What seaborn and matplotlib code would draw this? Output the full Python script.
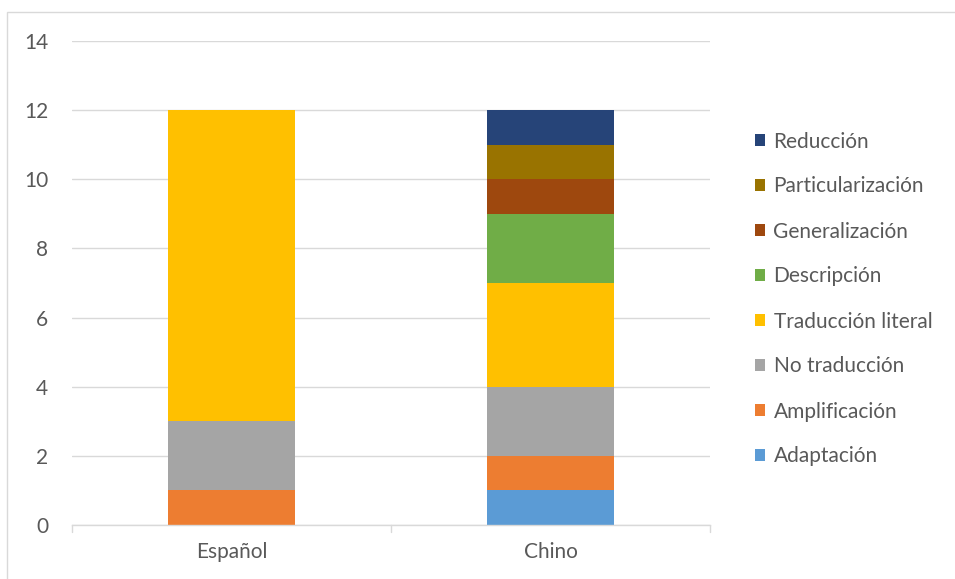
import matplotlib
matplotlib.use("Agg")
import matplotlib.pyplot as plt
import seaborn as sns
import pandas as pd
import numpy as np
from matplotlib.patches import Patch, Rectangle

categories = ["Español", "Chino"]
series = ["Adaptación", "Amplificación", "No traducción", "Traducción literal",
          "Descripción", "Generalización", "Particularización", "Reducción"]
adaptacion = [0, 1]
amplificacion = [1, 1]
no_traduccion = [2, 2]
traduccion_literal = [9, 3]
descripcion = [0, 2]
generalizacion = [0, 1]
particularizacion = [0, 1]
reduccion = [0, 1]
colors = ["#5B9BD5", "#ED7D31", "#A5A5A5", "#FFC000", "#70AD47", "#9E480E", "#997300", "#264478"]

values = [adaptacion, amplificacion, no_traduccion, traduccion_literal,
          descripcion, generalizacion, particularizacion, reduccion]

sns.set_theme(style="white")
plt.rcParams["font.family"] = ["Lato", "DejaVu Sans"]
txt = "#595959"
FS = 15

fig = plt.figure(figsize=(9.55, 5.79), dpi=100)
W, H = 955, 579
ax = fig.add_axes([72 / W, 1 - 525 / H, (710 - 72) / W, (525 - 41) / H])

bottom = np.zeros(len(categories))
for name, vals, col in zip(series, values, colors):
    df = pd.DataFrame({"cat": categories, "val": vals})
    sns.barplot(data=df, x="cat", y="val", color=col, bottom=bottom, width=0.4,
                ax=ax, saturation=1, order=categories, linewidth=0, zorder=3)
    bottom = bottom + np.array(vals)

ax.set_xlim(-0.5, 1.5)
ax.set_ylim(0, 14)
ax.set_yticks(np.arange(0, 15, 2))
ax.grid(axis="y", color="#D9D9D9", linewidth=1, zorder=0)
ax.set_xlabel("")
ax.set_ylabel("")
for s in ["left", "right", "top"]:
    ax.spines[s].set_visible(False)
ax.spines["bottom"].set_color("#D9D9D9")
ax.spines["bottom"].set_linewidth(1)
ax.spines["bottom"].set_zorder(4)
ax.tick_params(axis="y", length=0, labelsize=FS, labelcolor=txt, pad=17)
ax.tick_params(axis="x", length=0, labelsize=FS, labelcolor=txt, pad=12)
for xb in [-0.5, 0.5, 1.5]:
    ax.plot([xb, xb], [0, -0.2], color="#D9D9D9", lw=1, clip_on=False, zorder=4)

handles = [Patch(facecolor=c, edgecolor="none") for c in colors]
leg = fig.legend(handles[::-1], series[::-1], loc="center left",
                 bbox_to_anchor=(736 / W, 1 - 299 / H), frameon=False,
                 fontsize=FS, labelcolor=txt, handlelength=0.5, handleheight=0.5,
                 handletextpad=0.4, labelspacing=1.2)

fig.patches.append(Rectangle((7 / W, -0.1), 2, 1 - 12 / H + 0.1,
                             transform=fig.transFigure, fill=False,
                             edgecolor="#D9D9D9", linewidth=1))

fig.savefig("out.png", dpi=100)
